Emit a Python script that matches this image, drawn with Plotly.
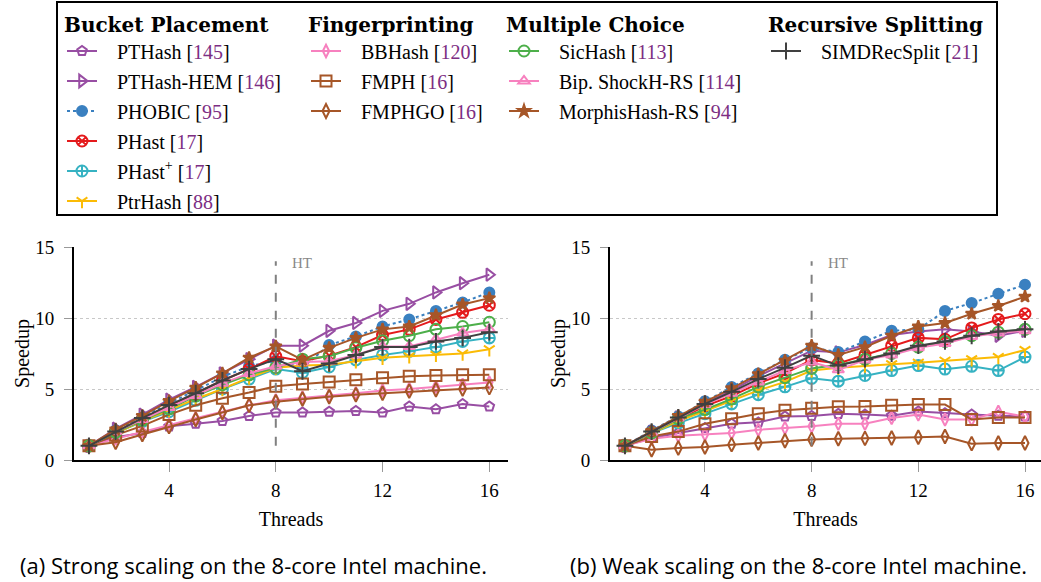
import plotly.graph_objects as go

threads = list(range(1, 17))

# ---- Strong scaling (left) ----
strong = {
    "PTHash":      [1, 1.6, 1.9, 2.37, 2.55, 2.75, 3.1, 3.35, 3.35, 3.4, 3.45, 3.35, 3.77, 3.57, 3.94, 3.77],
    "PTHash-HEM":  [1, 2.2, 3.2, 4.25, 5.15, 6.1, 7.1, 8.05, 8.05, 9.1, 9.65, 10.5, 11.0, 11.8, 12.45, 13.05],
    "PHOBIC":      [1, 2.1, 3.0, 4.0, 4.9, 5.85, 6.6, 7.0, 6.5, 8.1, 8.7, 9.4, 9.9, 10.5, 11.1, 11.8],
    "PHast":       [1, 2.0, 2.9, 3.8, 4.7, 5.6, 6.4, 7.3, 6.95, 7.35, 7.95, 8.8, 9.2, 9.9, 10.4, 10.9],
    "PHast+":      [1, 1.9, 2.7, 3.4, 4.2, 5.0, 5.7, 6.4, 6.15, 6.55, 7.05, 7.4, 7.65, 7.95, 8.35, 8.6],
    "PtrHash":     [1, 1.9, 2.75, 3.5, 4.3, 5.0, 5.8, 6.5, 6.65, 6.7, 6.95, 7.2, 7.3, 7.4, 7.5, 7.8],
    "BBHash":      [1, 1.5, 2.0, 2.5, 2.95, 3.4, 3.85, 4.2, 4.4, 4.55, 4.7, 4.9, 5.0, 5.15, 5.3, 5.45],
    "FMPH":        [1, 1.75, 2.4, 3.2, 3.85, 4.35, 4.75, 5.2, 5.35, 5.5, 5.65, 5.8, 5.9, 5.95, 6.0, 6.0],
    "FMPHGO":      [1, 1.25, 1.8, 2.35, 2.85, 3.35, 3.85, 4.1, 4.3, 4.45, 4.6, 4.7, 4.85, 4.95, 5.0, 5.1],
    "SicHash":     [1, 1.95, 2.8, 3.6, 4.5, 5.3, 6.0, 6.5, 7.1, 7.3, 7.9, 8.4, 8.75, 9.2, 9.4, 9.7],
    "BipShockH":   [1, 2.0, 2.85, 3.7, 4.55, 5.4, 6.1, 6.6, 6.9, 6.95, 7.4, 8.0, 8.0, 8.5, 8.95, 9.2],
    "MorphisHash": [1, 2.15, 3.1, 4.15, 5.1, 6.1, 7.2, 8.0, 7.05, 7.9, 8.6, 9.2, 9.4, 10.2, 10.95, 11.4],
    "SIMDRecSplit":[1, 2.0, 2.95, 3.87, 4.7, 5.6, 6.4, 7.1, 6.25, 6.8, 7.4, 7.95, 7.95, 8.35, 8.6, 9.0],
}

# ---- Weak scaling (right) ----
weak = {
    "PTHash":      [1, 1.55, 1.9, 2.25, 2.55, 2.65, 3.07, 3.1, 3.25, 3.2, 3.12, 3.42, 3.3, 3.2, 3.12, 3.07],
    "PTHash-HEM":  [1, 2.0, 3.0, 4.0, 4.9, 5.9, 6.8, 7.7, 7.58, 8.1, 8.8, 9.05, 9.2, 9.05, 8.75, 9.1],
    "PHOBIC":      [1, 2.08, 3.07, 4.13, 5.14, 6.1, 7.06, 7.9, 7.6, 8.35, 9.1, 9.2, 10.5, 11.05, 11.7, 12.35],
    "PHast":       [1, 1.95, 2.85, 3.8, 4.5, 5.4, 6.1, 7.05, 6.8, 7.4, 8.05, 8.6, 8.5, 9.3, 9.9, 10.3],
    "PHast+":      [1, 1.9, 2.6, 3.26, 3.95, 4.6, 5.15, 5.75, 5.55, 5.95, 6.3, 6.65, 6.4, 6.6, 6.3, 7.25],
    "PtrHash":     [1, 1.9, 2.75, 3.45, 4.2, 4.9, 5.5, 6.3, 6.5, 6.65, 6.75, 6.85, 7.0, 7.1, 7.25, 7.75],
    "BBHash":      [1, 1.5, 1.7, 1.8, 1.9, 2.13, 2.25, 2.37, 2.55, 2.55, 2.95, 3.2, 2.85, 2.85, 3.4, 3.05],
    "FMPH":        [1, 1.65, 2.0, 2.55, 2.9, 3.25, 3.5, 3.65, 3.75, 3.77, 3.85, 3.9, 3.9, 2.85, 3.0, 3.0],
    "FMPHGO":      [1, 0.72, 0.84, 0.92, 1.08, 1.2, 1.36, 1.45, 1.5, 1.52, 1.55, 1.6, 1.65, 1.15, 1.2, 1.2],
    "SicHash":     [1, 1.9, 2.9, 3.55, 4.3, 5.15, 5.8, 6.45, 6.7, 7.1, 7.5, 7.95, 8.35, 8.75, 9.0, 9.2],
    "BipShockH":   [1, 1.95, 2.95, 3.9, 4.7, 5.5, 6.3, 6.9, 6.35, 7.05, 7.4, 7.9, 8.2, 8.7, 8.95, 9.1],
    "MorphisHash": [1, 2.05, 3.1, 4.1, 5.05, 6.05, 7.0, 8.05, 7.4, 7.95, 8.75, 9.4, 9.65, 10.3, 10.85, 11.5],
    "SIMDRecSplit":[1, 2.0, 3.0, 3.95, 4.8, 5.7, 6.5, 7.35, 6.65, 7.1, 7.5, 8.05, 8.35, 8.75, 9.05, 9.2],
}

CITE = "#7d2e83"
PAD = "&nbsp;&nbsp;&nbsp;"
def lab(name, ref):
    return f'{PAD}{name} [<span style="color:{CITE}">{ref}</span>]'

# key, label, color, symbol, marker size, dash, legend id
series = [
    ("PTHash", lab("PTHash", 145), "#984ea3", "pentagon-open", 10, "solid", "legend"),
    ("PTHash-HEM", lab("PTHash-HEM", 146), "#984ea3", "triangle-right-open", 11, "solid", "legend"),
    ("PHOBIC", lab("PHOBIC", 95), "#3a80c0", "circle", 10, "dot", "legend"),
    ("PHast", lab("PHast", 17), "#e41a1c", "circle-x-open", 11, "solid", "legend"),
    ("PHast+", lab("PHast<sup>+</sup>", 17), "#36b2c2", "circle-cross-open", 11, "solid", "legend"),
    ("PtrHash", lab("PtrHash", 88), "#fbbb05", "y-down-open", 9, "solid", "legend"),
    ("BBHash", lab("BBHash", 120), "#f781bf", "diamond-tall-open", 9, "solid", "legend2"),
    ("FMPH", lab("FMPH", 16), "#a65628", "square-open", 11, "solid", "legend2"),
    ("FMPHGO", lab("FMPHGO", 16), "#a65628", "diamond-tall-open", 10, "solid", "legend2"),
    ("SicHash", lab("SicHash", 113), "#4daf4a", "circle-open", 11, "solid", "legend3"),
    ("BipShockH", lab("Bip. ShockH-RS", 114), "#f781bf", "triangle-up-open", 10, "solid", "legend3"),
    ("MorphisHash", lab("MorphisHash-RS", 94), "#a65628", "star", 9, "solid", "legend3"),
    ("SIMDRecSplit", lab("SIMDRecSplit", 21), "#404040", "cross-thin-open", 12, "solid", "legend4"),
]

SERIF = "Liberation Serif, DejaVu Serif, serif"
HEAD = "DejaVu Serif, serif"
fig = go.Figure()

for i, (key, label, color, sym, msize, dash, leg) in enumerate(series):
    for ax, data, show in (("", strong, True), ("2", weak, False)):
        fig.add_trace(go.Scatter(
            x=threads, y=data[key], name=label, mode="lines+markers",
            xaxis="x" + ax, yaxis="y" + ax,
            line=dict(color=color, width=2, dash=dash),
            marker=dict(symbol=sym, size=msize, color=color,
                        line=dict(color=color, width=2)),
            legend=leg, legendgroup=key, showlegend=show,
        ))

# layout geometry
W, H = 1041, 582
ydom = [1 - 460 / H, 1 - 247 / H]
xdom1 = [74 / W, 508 / W]
xdom2 = [610 / W, 1.0]

axis_common = dict(
    showline=True, linecolor="black", linewidth=2, automargin=False,
    ticks="outside", tickcolor="#999999", tickwidth=1,
    tickfont=dict(family=SERIF, size=19, color="black"),
    zeroline=False,
)
xcommon = dict(axis_common, range=[0.44, 16.7], tickvals=[4, 8, 12, 16],
               ticklen=10, showgrid=False, ticklabelstandoff=2,
               title=dict(text="Threads", font=dict(family=SERIF, size=20, color="black"), standoff=12))
ycommon = dict(axis_common, range=[0, 15], tickvals=[0, 5, 10, 15], ticklen=8,
               showgrid=True, gridcolor="#c8c8c8", griddash="dot", gridwidth=1,
               ticklabelstandoff=6,
               title=dict(text="Speedup", font=dict(family=SERIF, size=20, color="black"), standoff=0))

fig.update_layout(
    template="none",
    width=W, height=H, autosize=False,
    margin=dict(l=0, r=0, t=0, b=0, pad=0, autoexpand=False),
    plot_bgcolor="white", paper_bgcolor="white",
    font=dict(family=SERIF, color="black"),
    xaxis=dict(xcommon, domain=xdom1, anchor="y"),
    yaxis=dict(ycommon, domain=ydom, anchor="x"),
    xaxis2=dict(xcommon, domain=xdom2, anchor="y2", range=[0.44, 16.6]),
    yaxis2=dict(ycommon, domain=ydom, anchor="x2"),
)

# HT marker line
HT_X, HT_Y0, HT_Y1 = 8, 1.0, 14.0
for ax in ("", "2"):
    fig.add_shape(type="line", xref="x" + ax, yref="y" + ax,
                  x0=HT_X, x1=HT_X, y0=HT_Y0, y1=HT_Y1,
                  line=dict(color="#808080", width=2, dash="dash"))
    fig.add_annotation(xref="x" + ax, yref="y" + ax, x=9.0, y=13.9, text="HT",
                       showarrow=False, font=dict(family=SERIF, size=15, color="#888888"))

# legends
legfont = dict(family=SERIF, size=20, color="black")
titles = {
    "legend": "Bucket Placement",
    "legend2": "Fingerprinting",
    "legend3": "Multiple Choice",
    "legend4": "Recursive Splitting",
}
legx = {"legend": 62, "legend2": 306, "legend3": 504, "legend4": 766}
for lid, t in titles.items():
    fig.update_layout({lid: dict(
        x=legx[lid] / W, xanchor="left", y=1 - 5.5 / H, yanchor="top",
        orientation="v", traceorder="grouped", tracegroupgap=1,
        bgcolor="rgba(0,0,0,0)", borderwidth=0,
        font=legfont,
        title=dict(text=f"<b>{t}</b>", font=dict(family=HEAD, size=20, color="black"), side="top"),
    )})

fig.add_shape(type="rect", xref="paper", yref="paper",
              x0=57 / W, x1=997 / W, y0=1 - 215 / H, y1=1 - 2 / H,
              line=dict(color="black", width=2))

# captions
capfont = dict(family="Open Sans", size=22, color="black")
fig.add_annotation(xref="paper", yref="paper", x=253 / W, y=1 - 565 / H,
                   xanchor="center", yanchor="middle",
                   text="(a) Strong scaling on the 8-core Intel machine.",
                   showarrow=False, font=capfont)
fig.add_annotation(xref="paper", yref="paper", x=798 / W, y=1 - 565 / H,
                   xanchor="center", yanchor="middle",
                   text="(b) Weak scaling on the 8-core Intel machine.",
                   showarrow=False, font=capfont)

fig.write_html("out.html", config={"displayModeBar": False},
               post_script="document.body.style.margin='0px';")
